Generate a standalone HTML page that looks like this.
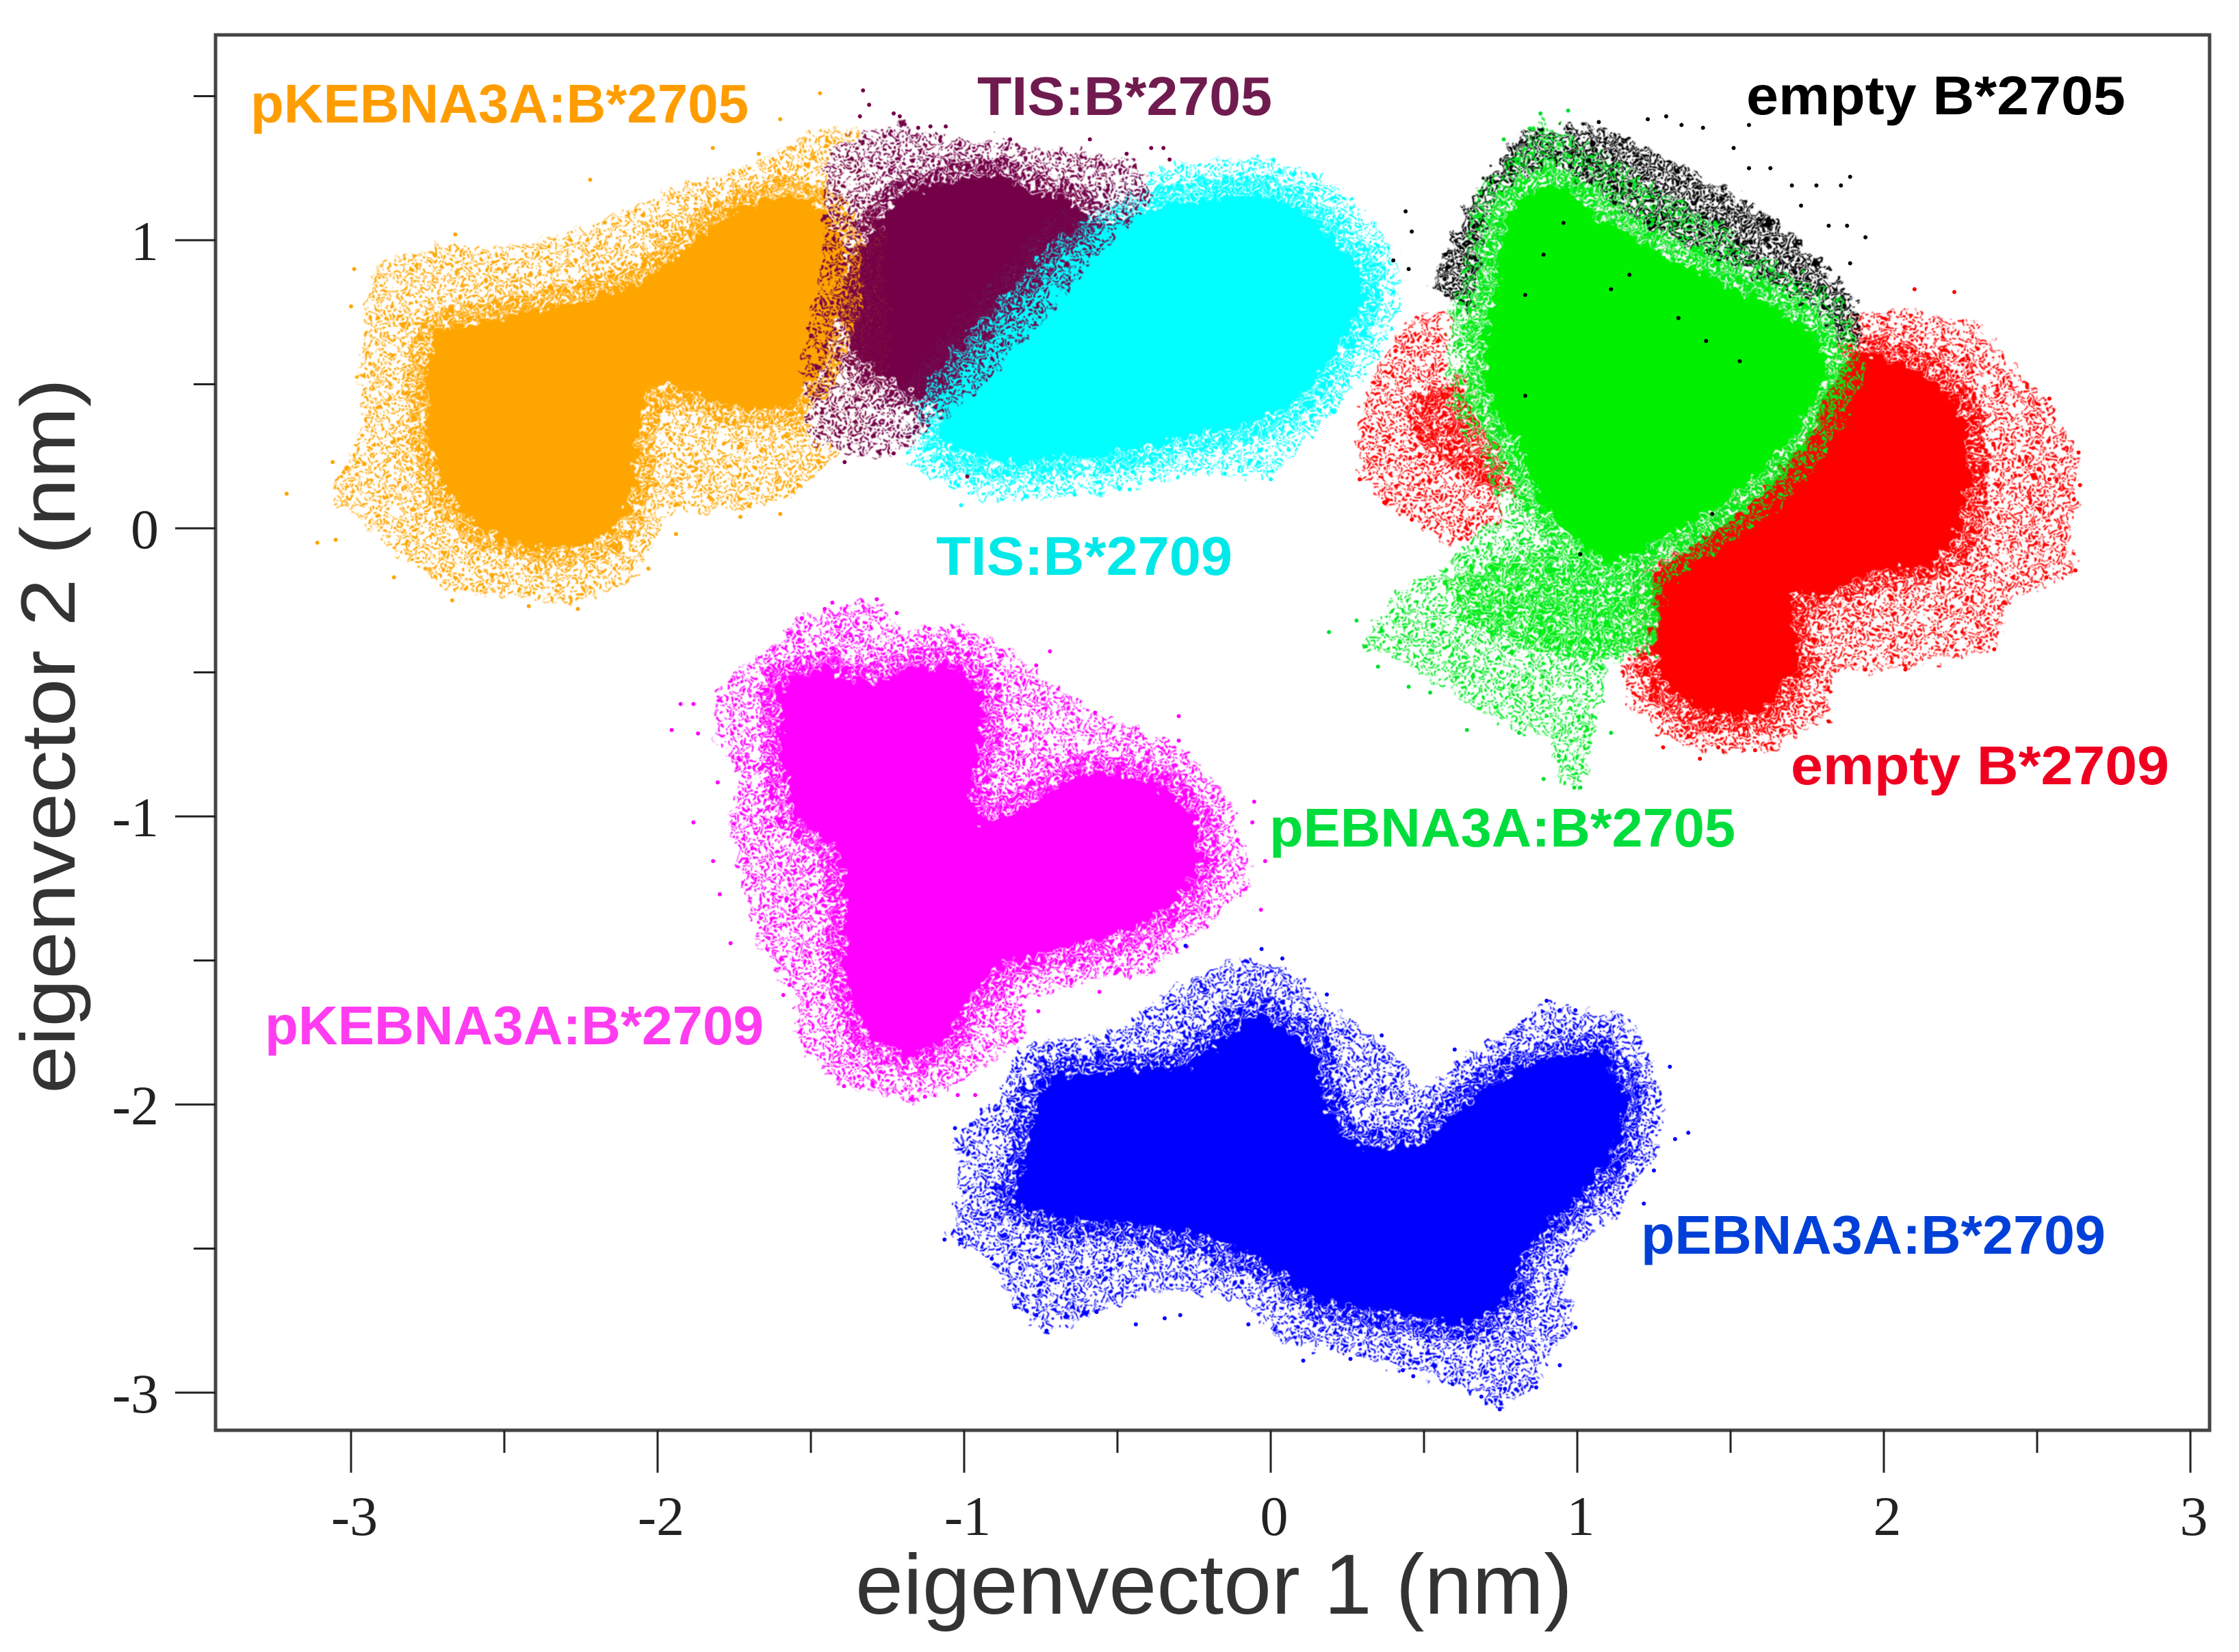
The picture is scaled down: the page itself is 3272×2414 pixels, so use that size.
<!DOCTYPE html>
<html lang="en">
<head>
<meta charset="utf-8">
<title>Eigenvector projection scatter</title>
<style>
html,body{margin:0;padding:0;background:#fff;}
svg{display:block;}
.tick-label{font-family:"Liberation Serif",serif;font-size:82px;fill:#222;}
.axis-title{font-family:"Liberation Sans",sans-serif;fill:#333;}
.series-label{font-family:"Liberation Sans",sans-serif;font-weight:700;font-size:80px;}
</style>
</head>
<body>
<svg id="chart" xmlns="http://www.w3.org/2000/svg" width="3272" height="2414" viewBox="0 0 3272 2414">
  <defs>
    <filter id="rough" filterUnits="userSpaceOnUse" x="0" y="0" width="3272" height="2414" color-interpolation-filters="sRGB">
      <feTurbulence type="fractalNoise" baseFrequency="0.07" numOctaves="2" seed="7" result="noise"/>
      <feDisplacementMap in="SourceGraphic" in2="noise" scale="34" xChannelSelector="R" yChannelSelector="G" result="moved"/>
      <feGaussianBlur in="moved" stdDeviation="0.9"/>
    </filter>
    <g id="tile-sparse">
      <circle cx="3" cy="5" r="2.8"/><circle cx="11" cy="3" r="2.8"/><circle cx="19" cy="7" r="2.8"/><circle cx="27" cy="3" r="2.8"/><circle cx="37" cy="6" r="2.8"/>
      <circle cx="7" cy="13" r="2.8"/><circle cx="15" cy="15" r="2.8"/><circle cx="24" cy="12" r="2.8"/><circle cx="32" cy="14" r="2.8"/><circle cx="41" cy="11" r="2.8"/>
      <circle cx="3" cy="22" r="2.8"/><circle cx="12" cy="24" r="2.8"/><circle cx="20" cy="20" r="2.8"/><circle cx="29" cy="22" r="2.8"/><circle cx="38" cy="20" r="2.8"/>
      <circle cx="7" cy="31" r="2.8"/><circle cx="17" cy="32" r="2.8"/><circle cx="25" cy="29" r="2.8"/><circle cx="34" cy="30" r="2.8"/><circle cx="41" cy="34" r="2.8"/>
      <circle cx="12" cy="40" r="2.8"/><circle cx="22" cy="39" r="2.8"/><circle cx="31" cy="38" r="2.8"/><circle cx="39" cy="41" r="2.8"/>
    </g>
    <g id="tile-dense">
      <circle cx="3" cy="3" r="2.9"/><circle cx="10" cy="5" r="2.9"/><circle cx="17" cy="3" r="2.9"/><circle cx="25" cy="4" r="2.9"/>
      <circle cx="6" cy="10" r="2.9"/><circle cx="14" cy="11" r="2.9"/><circle cx="21" cy="9" r="2.9"/><circle cx="27" cy="12" r="2.9"/>
      <circle cx="3" cy="16" r="2.9"/><circle cx="10" cy="18" r="2.9"/><circle cx="18" cy="16" r="2.9"/><circle cx="25" cy="19" r="2.9"/>
      <circle cx="6" cy="24" r="2.9"/><circle cx="14" cy="25" r="2.9"/><circle cx="21" cy="23" r="2.9"/><circle cx="27" cy="27" r="2.9"/><circle cx="3" cy="27" r="2.9"/><circle cx="19" cy="27" r="2.9"/>
    </g>
    <pattern id="sparse-orange" patternUnits="userSpaceOnUse" width="44" height="44"><use href="#tile-sparse" fill="#ffa500"/></pattern>
    <pattern id="dense-orange" patternUnits="userSpaceOnUse" width="30" height="30"><use href="#tile-dense" fill="#ffa500"/></pattern>
    <pattern id="sparse-maroon" patternUnits="userSpaceOnUse" width="44" height="44"><use href="#tile-sparse" fill="#740047"/></pattern>
    <pattern id="dense-maroon" patternUnits="userSpaceOnUse" width="30" height="30"><use href="#tile-dense" fill="#740047"/></pattern>
    <pattern id="sparse-cyan" patternUnits="userSpaceOnUse" width="44" height="44"><use href="#tile-sparse" fill="#00ffff"/></pattern>
    <pattern id="dense-cyan" patternUnits="userSpaceOnUse" width="30" height="30"><use href="#tile-dense" fill="#00ffff"/></pattern>
    <pattern id="sparse-red" patternUnits="userSpaceOnUse" width="44" height="44"><use href="#tile-sparse" fill="#ff0000"/></pattern>
    <pattern id="dense-red" patternUnits="userSpaceOnUse" width="30" height="30"><use href="#tile-dense" fill="#ff0000"/></pattern>
    <pattern id="sparse-green" patternUnits="userSpaceOnUse" width="44" height="44"><use href="#tile-sparse" fill="#00e820"/></pattern>
    <pattern id="dense-green" patternUnits="userSpaceOnUse" width="30" height="30"><use href="#tile-dense" fill="#00ee10"/></pattern>
    <pattern id="dense-black" patternUnits="userSpaceOnUse" width="30" height="30"><use href="#tile-dense" fill="#000000"/></pattern>
    <pattern id="sparse-magenta" patternUnits="userSpaceOnUse" width="44" height="44"><use href="#tile-sparse" fill="#ff00ff"/></pattern>
    <pattern id="dense-magenta" patternUnits="userSpaceOnUse" width="30" height="30"><use href="#tile-dense" fill="#ff00ff"/></pattern>
    <pattern id="sparse-blue" patternUnits="userSpaceOnUse" width="44" height="44"><use href="#tile-sparse" fill="#0000ff"/></pattern>
    <pattern id="dense-blue" patternUnits="userSpaceOnUse" width="30" height="30"><use href="#tile-dense" fill="#0000ff"/></pattern>
  </defs>

  <g id="clusters" filter="url(#rough)"></g>
  <g id="outliers"></g>

  <rect x="315" y="51" width="2914" height="2039" fill="none" stroke="#444" stroke-width="5"/>
  <g id="axes"></g>

  <text class="axis-title" font-size="124" x="1250" y="2358" textLength="1048" lengthAdjust="spacingAndGlyphs">eigenvector 1 (nm)</text>
  <text class="axis-title" font-size="112" transform="translate(109,1598) rotate(-90)" textLength="1045" lengthAdjust="spacingAndGlyphs">eigenvector 2 (nm)</text>

  <text class="series-label" x="366" y="179" fill="#ff9d00" textLength="728" lengthAdjust="spacingAndGlyphs">pKEBNA3A:B*2705</text>
  <text class="series-label" x="1428" y="168" fill="#701b4f" textLength="431" lengthAdjust="spacingAndGlyphs">TIS:B*2705</text>
  <text class="series-label" x="2552" y="167" fill="#000" textLength="554" lengthAdjust="spacingAndGlyphs">empty B*2705</text>
  <text class="series-label" x="1368" y="840" fill="#00e8e8" textLength="433" lengthAdjust="spacingAndGlyphs">TIS:B*2709</text>
  <text class="series-label" x="2617" y="1146" fill="#f00020" textLength="553" lengthAdjust="spacingAndGlyphs">empty B*2709</text>
  <text class="series-label" x="1855" y="1237" fill="#00dd3c" textLength="681" lengthAdjust="spacingAndGlyphs">pEBNA3A:B*2705</text>
  <text class="series-label" x="387" y="1526" fill="#ff3cf0" textLength="729" lengthAdjust="spacingAndGlyphs">pKEBNA3A:B*2709</text>
  <text class="series-label" x="2398" y="1832" fill="#0040d8" textLength="679" lengthAdjust="spacingAndGlyphs">pEBNA3A:B*2709</text>
</svg>

<script>
/* Tick values */
const xMajorTicks = [-3, -2, -1, 0, 1, 2, 3];
const xMinorTicks = [-2.5, -1.5, -0.5, 0.5, 1.5, 2.5];
const yMajorTicks = [-3, -2, -1, 0, 1];
const yMinorTicks = [-2.5, -1.5, -0.5, 0.5, 1.5];

/* Cluster outlines and outlying frames, in nm */
const orangeCore = [[-2.73,.68],[-2.51,.73],[-2.23,.79],[-2.05,.86],[-1.89,.99],[-1.73,1.11],[-1.57,1.15],[-1.46,1.11],[-1.39,.99],[-1.40,.77],[-1.47,.55],[-1.57,.42],[-1.75,.42],[-1.89,.47],[-2.03,.50],[-2.07,.32],[-2.07,.17],[-2.11,.03],[-2.23,-.06],[-2.41,-.07],[-2.57,-.01],[-2.69,.12],[-2.75,.32],[-2.75,.53]];
const orangeHalo = [[-2.97,.67],[-2.91,.925],[-2.71,.985],[-2.49,.97],[-2.19,1.06],[-1.95,1.18],[-1.77,1.23],[-1.57,1.33],[-1.47,1.39],[-1.35,1.38],[-1.26,1.08],[-1.24,.62],[-1.32,.32],[-1.44,.23],[-1.58,.09],[-1.75,.06],[-1.97,.06],[-2.03,-.07],[-2.07,-.17],[-2.25,-.26],[-2.55,-.23],[-2.71,-.2],[-2.87,-.06],[-2.99,.05],[-3.07,.12],[-2.97,.32],[-2.97,.47]];
const orangeOutliers = [[-3.21,.12],[-3.11,-.05],[-3.05,-.04],[-2.86,-.17],[-2.67,-.25],[-2.42,-.27],[-2.26,-.28],[-2.03,-.14],[-1.94,-.02],[-1.73,.04],[-1.6,.05],[-2.22,1.21],[-1.82,1.32],[-1.67,1.30],[-1.60,1.42],[-1.47,1.51],[-2.66,1.02],[-2.99,.90],[-3.0,.77],[-3.06,.23]];

const maroonCore = [[-1.25,1.1],[-1.2,1.16],[-1.08,1.195],[-.89,1.22],[-.765,1.165],[-.65,1.135],[-.5,1.0],[-.7,.7],[-.9,.5],[-1.11,.44],[-1.22,.5],[-1.36,.62],[-1.42,.78],[-1.36,.95]];
const maroonHalo = [[-1.42,1.34],[-1.22,1.40],[-1.06,1.36],[-.85,1.33],[-.59,1.30],[-.42,1.26],[-.38,1.14],[-.62,.88],[-.95,.48],[-1.23,.26],[-1.39,.25],[-1.5,.31],[-1.53,.61],[-1.45,1.01],[-1.46,1.22]];
const maroonOutliers = [[-1.33,1.52],[-1.31,1.47],[-1.34,1.43],[-1.23,1.44],[-1.21,1.43],[-1.15,1.39],[-1.11,1.395],[-1.06,1.395],[-.85,1.35],[-.59,1.35],[-.47,1.30],[-.39,1.32],[-.35,1.32],[-.33,1.28],[-.99,.18],[-1.23,.26],[-1.39,.23]];

const cyanCore = [[-1.09,.43],[-1.01,.55],[-.89,.69],[-.78,.82],[-.665,.95],[-.52,1.06],[-.35,1.12],[-.195,1.147],[-.04,1.153],[.10,1.11],[.20,1.01],[.29,.917],[.30,.795],[.25,.67],[.16,.55],[.06,.43],[-.08,.36],[-.27,.32],[-.48,.27],[-.72,.24],[-.89,.226],[-1.06,.29]];
const cyanHalo = [[-1.16,.27],[-1.11,.20],[-.89,.14],[-.64,.117],[-.34,.20],[0,.177],[.20,.408],[.30,.55],[.35,.77],[.40,.81],[.35,.99],[.16,1.18],[.075,1.23],[-.11,1.23],[-.27,1.17],[-.44,1.22],[-.61,1.06],[-.75,1.0],[-1.0,.66],[-1.2,.36]];
const cyanOutliers = [[-.10,1.23],[.075,1.23],[-.01,1.22],[.15,1.18],[.35,.98],[.40,.82],[0,.17],[-.15,.19],[-.46,.135],[-.64,.117],[-.765,.135],[-1.01,.08],[-1.02,.15],[-1.10,.2],[.16,.41],[.2,.41]];

const redHalo = [[1.89,.73],[2.07,.763],[2.3,.713],[2.46,.513],[2.54,.446],[2.635,.263],[2.635,.146],[2.6,-.07],[2.635,-.154],[2.42,-.237],[2.36,-.42],[2.07,-.487],[1.83,-.504],[1.815,-.67],[1.46,-.77],[1.27,-.72],[1.21,-.587],[1.25,-.3],[1.5,.2],[1.8,.6]];
const redCore = [[1.91,.613],[2.13,.546],[2.26,.413],[2.28,.18],[2.225,-.07],[2.11,-.137],[1.95,-.154],[1.815,-.22],[1.70,-.22],[1.72,-.487],[1.6,-.64],[1.405,-.64],[1.29,-.554],[1.25,-.44],[1.25,-.154],[1.365,-.07],[1.58,.096],[1.756,.33],[1.834,.513]];
const redLeftHalo = [[.29,.396],[.35,.56],[.47,.746],[.68,.76],[.72,.43],[.877,.046],[.74,-.004],[.584,-.054],[.45,.03],[.29,.18]];
const redLeftCore = [[.43,.43],[.64,.546],[.76,.28],[.82,.096],[.66,.163],[.487,.28]];
const redOutliers = [[2.635,.263],[2.64,.15],[2.62,.10],[2.625,-.146],[2.53,-.17],[2.54,.45],[2.54,.17],[2.36,-.42],[2.07,-.49],[1.94,-.49],[1.82,-.67],[1.58,-.77],[1.46,-.76],[1.28,-.76],[1.40,-.80],[2.23,.82],[2.1,.83],[.29,.17],[.37,.09],[.46,.03]];

const blackHalo = [[.82,1.38],[1.07,1.396],[1.42,1.213],[1.66,1.06],[1.91,.796],[1.93,.63],[1.776,.66],[1.6,.796],[1.385,.896],[1.21,.98],[1.05,1.096],[.916,1.196],[.78,1.11],[.74,.88],[.68,.73],[.526,.846],[.643,1.13]];
const blackOutliers = [[1.07,1.41],[1.23,1.42],[1.29,1.43],[1.34,1.40],[1.41,1.39],[1.51,1.32],[1.56,1.40],[1.56,1.25],[1.63,1.25],[1.89,1.22],[1.86,1.19],[1.78,1.19],[1.70,1.19],[1.73,1.12],[1.82,1.05],[1.88,1.05],[1.94,1.01],[1.89,.92],[.44,1.10],[.46,1.03],[.40,.93],[.45,.90],[.57,.95],[.955,1.06],[.83,.81],[1.11,.83],[1.17,.88],[1.33,.73],[1.42,.65],[1.53,.58],[.89,.95],[.83,.46],[1.44,.05],[1.01,-.09]];

const greenCore = [[.78,1.11],[.916,1.196],[1.05,1.096],[1.21,.98],[1.385,.896],[1.6,.796],[1.776,.68],[1.815,.53],[1.72,.346],[1.6,.196],[1.44,.063],[1.23,-.07],[1.09,-.12],[.955,-.004],[.877,.096],[.80,.296],[.70,.463],[.70,.663],[.74,.88]];
const greenHalo = [[.877,1.43],[1.07,1.31],[1.46,1.06],[1.85,.71],[1.89,.56],[1.74,.26],[1.46,-.037],[1.29,-.2],[1.25,-.44],[1.11,-.47],[1.01,-.9],[.94,-.89],[.916,-.74],[.74,-.67],[.545,-.55],[.41,-.44],[.31,-.42],[.39,-.24],[.58,-.12],[.68,-.004],[.877,.096],[.68,.463],[.585,.76],[.70,1.16]];
const greenLowerBlob = [[.565,-.17],[.897,-.07],[1.27,-.17],[1.25,-.4],[1.03,-.47],[.74,-.37],[.62,-.32]];
const greenOutliers = [[.19,-.36],[.28,-.32],[.31,-.41],[.35,-.48],[.45,-.55],[.52,-.57],[.64,-.70],[.81,-.71],[.89,-.87],[.94,-.79],[.99,-.9],[1.01,-.9],[1.11,-.71],[.88,1.44],[.97,1.45],[.76,1.35]];

const magentaCore = [[-1.60,-.537],[-1.455,-.488],[-1.31,-.537],[-1.17,-.488],[-1.03,-.47],[-.943,-.573],[-.943,-.73],[-.986,-.912],[-.943,-1.02],[-.815,-.985],[-.63,-.85],[-.516,-.85],[-.345,-.9],[-.245,-1.01],[-.23,-1.155],[-.30,-1.29],[-.46,-1.4],[-.673,-1.458],[-.886,-1.518],[-.986,-1.64],[-1.057,-1.773],[-1.17,-1.846],[-1.313,-1.76],[-1.385,-1.58],[-1.385,-1.373],[-1.40,-1.155],[-1.555,-.973],[-1.6,-.79]];
const magentaHalo = [[-1.81,-.56],[-1.725,-.476],[-1.60,-.39],[-1.527,-.306],[-1.285,-.246],[-1.23,-.343],[-.915,-.379],[-.77,-.5],[-.573,-.646],[-.317,-.743],[-.175,-.876],[-.09,-1.106],[-.075,-1.252],[-.203,-1.373],[-.416,-1.555],[-.815,-1.555],[-.80,-1.76],[-1.03,-1.943],[-1.17,-1.99],[-1.4,-1.93],[-1.54,-1.797],[-1.555,-1.603],[-1.67,-1.446],[-1.726,-1.215],[-1.769,-1.021],[-1.726,-.864],[-1.81,-.743]];
const magentaOutliers = [[-1.285,-.246],[-1.43,-.258],[-1.455,-.28],[-1.22,-.294],[-1.53,-.312],[-1.114,-.349],[-.72,-.427],[-.765,-.476],[-.573,-.64],[-.30,-.652],[-.30,-.737],[-.054,-.949],[-.06,-1.021],[-.018,-1.155],[-.032,-1.324],[-.274,-1.452],[-.559,-1.609],[-.758,-1.676],[-1.954,-.70],[-1.925,-.61],[-1.883,-.61],[-1.868,-.712],[-1.819,-1.155],[-1.883,-1.021],[-1.804,-.882],[-1.797,-1.27],[-1.762,-1.44],[-1.57,-1.585],[-1.59,-1.62],[-1.392,-1.936],[-1.17,-1.979],[-1.128,-1.973],[-1.021,-1.967],[-.964,-1.967]];

const blueCore = [[-.756,-1.967],[-.722,-1.902],[-.449,-1.88],[-.278,-1.869],[-.158,-1.771],[-.039,-1.684],[.132,-1.793],[.166,-1.957],[.217,-2.098],[.32,-2.153],[.49,-2.142],[.576,-2.055],[.695,-1.946],[.85,-1.858],[1.07,-1.815],[1.157,-1.967],[1.14,-2.12],[1.054,-2.262],[.918,-2.404],[.815,-2.513],[.78,-2.665],[.644,-2.763],[.405,-2.72],[.166,-2.687],[-.022,-2.545],[-.244,-2.447],[-.449,-2.414],[-.705,-2.393],[-.842,-2.338],[-.79,-2.153]];
const blueHalo = [[-1.03,-2.12],[-.91,-2],[-.722,-1.869],[-.466,-1.727],[-.312,-1.586],[-.09,-1.488],[.046,-1.52],[.183,-1.651],[.371,-1.793],[.508,-1.956],[.61,-1.88],[.798,-1.728],[.9,-1.651],[1.157,-1.695],[1.242,-1.847],[1.26,-2.055],[1.242,-2.207],[1.122,-2.316],[1.037,-2.425],[.883,-2.458],[.969,-2.578],[.986,-2.774],[.9,-2.873],[.866,-2.982],[.747,-3.058],[.593,-2.97],[.286,-2.873],[.03,-2.818],[-.073,-2.687],[-.363,-2.644],[-.739,-2.785],[-.842,-2.698],[-.91,-2.535],[-1.047,-2.458],[-1.012,-2.284]];
const blueOutliers = [[-1.064,-2.469],[-1.012,-2.469],[-1.03,-2.082],[-.91,-2.535],[-.833,-2.703],[-.765,-2.731],[-.731,-2.785],[-.568,-2.72],[-.44,-2.763],[-.346,-2.742],[-.295,-2.731],[-.073,-2.763],[.106,-2.889],[.26,-2.883],[.431,-2.922],[.465,-2.943],[.593,-2.97],[.687,-3.014],[.747,-3.058],[.764,-2.987],[.866,-2.982],[.943,-2.905],[.994,-2.774],[1.302,-1.869],[1.362,-2.098],[1.319,-2.12],[1.25,-2.229],[1.217,-2.344],[.9,-1.64],[.943,-1.673],[.994,-1.673],[.6,-1.809],[.362,-1.76],[.183,-1.618],[.038,-1.493],[-.03,-1.46],[-.278,-1.449]];

/* Axis functions */
function sx(v){ return 1857 + 448 * v; }
function sy(v){ return 772 - 421 * v; }

const NS = 'http://www.w3.org/2000/svg';
const clusters = document.getElementById('clusters');
const outliers = document.getElementById('outliers');
const axes = document.getElementById('axes');

function toPoints(pts){
  return pts.map(function(p){ return sx(p[0]).toFixed(1) + ',' + sy(p[1]).toFixed(1); }).join(' ');
}
function region(pts, fill, name){
  const el = document.createElementNS(NS, 'polygon');
  el.setAttribute('points', toPoints(pts));
  el.setAttribute('fill', fill);
  
  
  clusters.appendChild(el);
}
function ring(pts, stroke, width, name){
  const el = document.createElementNS(NS, 'polygon');
  el.setAttribute('points', toPoints(pts));
  el.setAttribute('fill', 'none');
  el.setAttribute('stroke', stroke);
  el.setAttribute('stroke-width', width);
  el.setAttribute('stroke-linejoin', 'round');
  
  
  clusters.appendChild(el);
}
function fringe(pts, color, name){
  ring(pts, 'url(#sparse-' + color + ')', 110, name + '-outer');
  ring(pts, 'url(#dense-' + color + ')', 56, name + '-inner');
}
function points(pts, color, name){
  pts.forEach(function(p){
    const c = document.createElementNS(NS, 'circle');
    c.setAttribute('cx', sx(p[0]).toFixed(1));
    c.setAttribute('cy', sy(p[1]).toFixed(1));
    c.setAttribute('r', '3');
    c.setAttribute('fill', color);
    
    
    outliers.appendChild(c);
  });
}

/* pKEBNA3A:B*2705 and TIS clusters */
fringe(maroonCore, 'maroon', 'tis-b2705-fringe');
region(maroonCore, '#740047', 'tis-b2705-core');
region(orangeHalo, 'url(#sparse-orange)', 'pkebna3a-b2705-halo');
fringe(orangeCore, 'orange', 'pkebna3a-b2705-fringe');
region(orangeCore, '#ffa500', 'pkebna3a-b2705-core');
points(orangeOutliers, '#ffa500', 'pkebna3a-b2705-point');
region(cyanHalo, 'url(#sparse-cyan)', 'tis-b2709-halo');
fringe(cyanCore, 'cyan', 'tis-b2709-fringe');
region(cyanCore, '#00ffff', 'tis-b2709-core');
points(cyanOutliers, '#00ffff', 'tis-b2709-point');
region(maroonHalo, 'url(#sparse-maroon)', 'tis-b2705-halo');
points(maroonOutliers, '#740047', 'tis-b2705-point');

/* empty B*2709 */
region(redLeftHalo, 'url(#sparse-red)', 'empty-b2709-left-halo');
region(redLeftCore, 'url(#dense-red)', 'empty-b2709-left-core');
region(redHalo, 'url(#sparse-red)', 'empty-b2709-halo');
fringe(redCore, 'red', 'empty-b2709-fringe');
region(redCore, '#ff0000', 'empty-b2709-core');
points(redOutliers, '#ff0000', 'empty-b2709-point');

/* empty B*2705 */
region(blackHalo, 'url(#dense-black)', 'empty-b2705-halo');

/* pEBNA3A:B*2705 */
region(greenHalo, 'url(#sparse-green)', 'pebna3a-b2705-halo');
region(greenLowerBlob, 'url(#dense-green)', 'pebna3a-b2705-lower-blob');
fringe(greenCore, 'green', 'pebna3a-b2705-fringe');
region(greenCore, '#00f000', 'pebna3a-b2705-core');
points(greenOutliers, '#00e030', 'pebna3a-b2705-point');
points(blackOutliers, '#000000', 'empty-b2705-point');

/* pKEBNA3A:B*2709 */
region(magentaHalo, 'url(#sparse-magenta)', 'pkebna3a-b2709-halo');
fringe(magentaCore, 'magenta', 'pkebna3a-b2709-fringe');
region(magentaCore, '#ff00ff', 'pkebna3a-b2709-core');
points(magentaOutliers, '#ff00ff', 'pkebna3a-b2709-point');

/* pEBNA3A:B*2709 */
region(blueHalo, 'url(#sparse-blue)', 'pebna3a-b2709-halo');
fringe(blueCore, 'blue', 'pebna3a-b2709-fringe');
region(blueCore, '#0000ff', 'pebna3a-b2709-core');
points(blueOutliers, '#0000ff', 'pebna3a-b2709-point');

/* Axes */
function tick(x1, y1, x2, y2, name){
  const l = document.createElementNS(NS, 'line');
  l.setAttribute('x1', x1);
  l.setAttribute('y1', y1);
  l.setAttribute('x2', x2);
  l.setAttribute('y2', y2);
  l.setAttribute('stroke', '#222');
  l.setAttribute('stroke-width', '3');
  
  
  axes.appendChild(l);
}
function label(x, y, anchor, value, name){
  const t = document.createElementNS(NS, 'text');
  t.setAttribute('class', 'tick-label');
  t.setAttribute('x', x);
  t.setAttribute('y', y);
  t.setAttribute('text-anchor', anchor);
  
  
  t.textContent = String(value);
  axes.appendChild(t);
}
xMajorTicks.forEach(function(v){
  tick(sx(v), 2090, sx(v), 2152, 'x-major-tick');
  label(sx(v) + 5, 2243, 'middle', v, 'x-tick-label');
});
xMinorTicks.forEach(function(v){
  tick(sx(v), 2090, sx(v), 2123, 'x-minor-tick');
});
yMajorTicks.forEach(function(v){
  tick(256, sy(v), 315, sy(v), 'y-major-tick');
  label(232, sy(v) + 29, 'end', v, 'y-tick-label');
});
yMinorTicks.forEach(function(v){
  tick(283, sy(v), 315, sy(v), 'y-minor-tick');
});
</script>
</body>
</html>
